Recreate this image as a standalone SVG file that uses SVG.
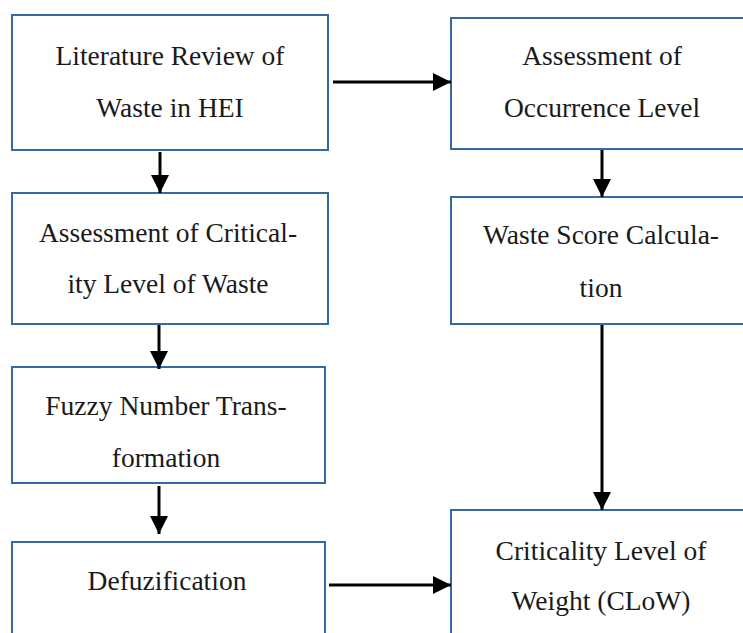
<svg xmlns="http://www.w3.org/2000/svg" width="743" height="633" viewBox="0 0 743 633">
<style>
.box{fill:#fff;stroke:#3569a3;stroke-width:2}
.t{font-family:'Liberation Serif','DejaVu Serif',serif;font-size:27.5px;fill:#1a1a1a;text-anchor:middle}
.c{stroke:#000;stroke-width:3;fill:none}
</style>
<defs>
<marker id="ah" markerUnits="userSpaceOnUse" markerWidth="20" markerHeight="18" refX="18" refY="9" orient="auto">
<path d="M0,0 L18,9 L0,18 Z" fill="#000"/>
</marker>
</defs>
<rect width="743" height="633" fill="#fff"/>
<g id="n1"><rect class="box" x="12" y="15" width="316" height="135"/>
<text class="t" x="170" y="65">Literature Review of</text>
<text class="t" x="170" y="117">Waste in HEI</text></g>
<g id="n2"><rect class="box" x="451" y="18" width="310" height="131"/>
<text class="t" x="602" y="65">Assessment of</text>
<text class="t" x="602" y="117">Occurrence Level</text></g>
<g id="n3"><rect class="box" x="12" y="193" width="316" height="131"/>
<text class="t" x="168" y="242">Assessment of Critical-</text>
<text class="t" x="168" y="293">ity Level of Waste</text></g>
<g id="n4"><rect class="box" x="451" y="197" width="310" height="127"/>
<text class="t" x="601" y="244">Waste Score Calcula-</text>
<text class="t" x="601" y="297">tion</text></g>
<g id="n5"><rect class="box" x="12" y="367" width="313" height="116"/>
<text class="t" x="166" y="415">Fuzzy Number Trans-</text>
<text class="t" x="166" y="467">formation</text></g>
<g id="n6"><rect class="box" x="12" y="542" width="313" height="100"/>
<text class="t" x="167" y="590">Defuzification</text></g>
<g id="n7"><rect class="box" x="451" y="510" width="310" height="140"/>
<text class="t" x="601" y="560">Criticality Level of</text>
<text class="t" x="601" y="610">Weight (CLoW)</text></g>
<g id="connectors">
<line class="c" x1="333" y1="82" x2="451" y2="82" marker-end="url(#ah)"/>
<line class="c" x1="160" y1="152" x2="160" y2="193" marker-end="url(#ah)"/>
<line class="c" x1="602" y1="150" x2="602" y2="197" marker-end="url(#ah)"/>
<line class="c" x1="159" y1="325" x2="159" y2="369" marker-end="url(#ah)"/>
<line class="c" x1="159" y1="486" x2="159" y2="534" marker-end="url(#ah)"/>
<line class="c" x1="602" y1="325" x2="602" y2="510" marker-end="url(#ah)"/>
<line class="c" x1="329" y1="585" x2="451" y2="585" marker-end="url(#ah)"/>
</g>
</svg>
